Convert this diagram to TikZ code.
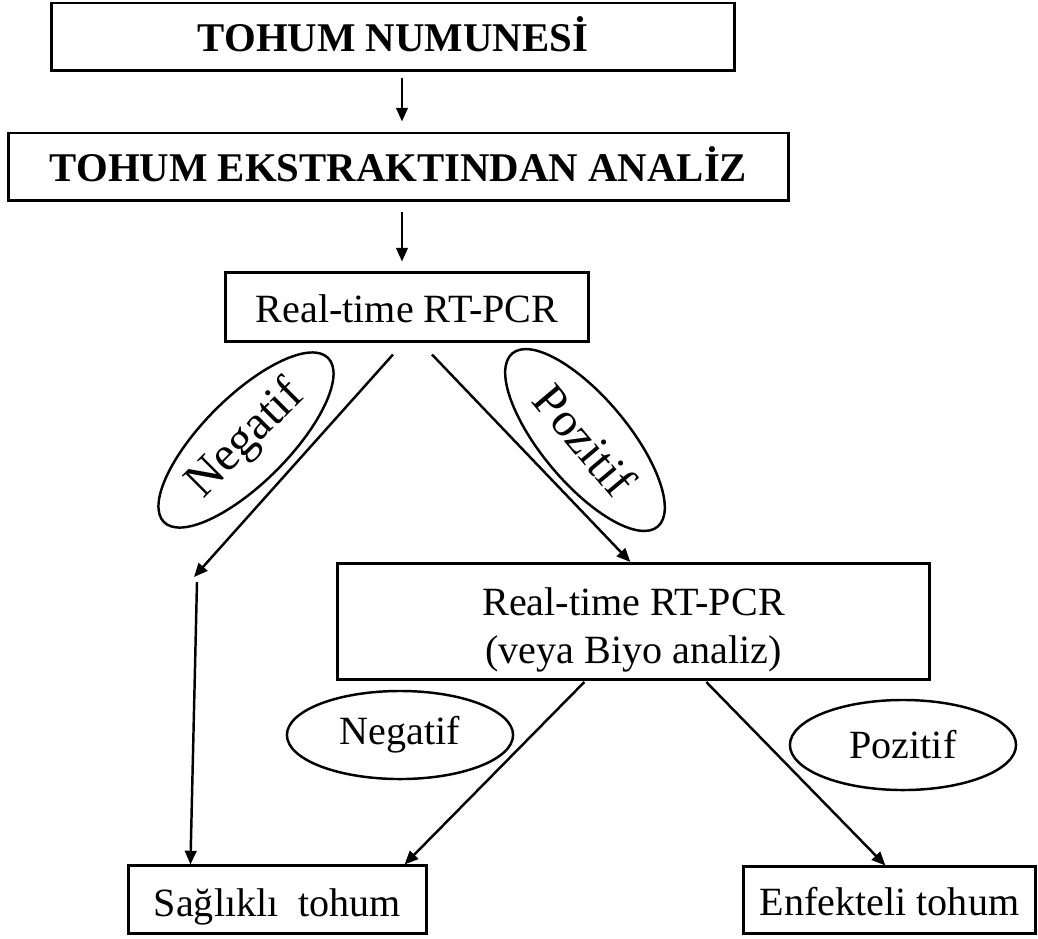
\documentclass[tikz,border=0pt]{standalone}
\usepackage{fontspec}
\setmainfont{Liberation Serif}
\usetikzlibrary{shapes.geometric,arrows.meta,calc}
\tikzset{
 box/.style={draw, line width=0.85pt, rectangle, inner sep=0pt, align=center, font=\fontsize{11.4pt}{13.66pt}\selectfont},
 onebox/.style={box, text height=0.3cm, text depth=0cm},
 bbox/.style={onebox, font=\fontsize{11.6pt}{14pt}\selectfont\bfseries},
 oval/.style={draw, ellipse, line width=0.7pt, inner sep=0pt, font=\fontsize{11.4pt}{13.66pt}\selectfont},
 bigoval/.style={oval, font=\fontsize{13.7pt}{16pt}\selectfont},
 arr/.style={line width=0.7pt, -{Triangle[length=3.9pt,width=3.3pt]}},
}
\begin{document}
\begin{tikzpicture}[x=0.01cm,y=-0.01cm]
\useasboundingbox (0,0) rectangle (1038,938);
% boxes
\node[bbox, minimum width=6.82cm, minimum height=0.67cm] (n1) at (393,36.5) {TOHUM NUMUNESİ};
\node[bbox, minimum width=7.79cm, minimum height=0.67cm] (n2) at (398.5,166.5) {TOHUM EKSTRAKTINDAN ANALİZ};
\node[onebox, minimum width=3.62cm, minimum height=0.68cm] (n3) at (407,307) {Real-time RT-PCR};
\node[box, minimum width=5.91cm, minimum height=1.16cm] (n4) at (633.5,621.5) {\rule{0pt}{0.44cm}Real-time RT-PCR\\(veya Biyo analiz)};
\node[onebox, minimum width=2.97cm, minimum height=0.67cm, text height=0.33cm] (n5) at (277.5,899.5) {Sağlıklı\ \ tohum};
\node[onebox, minimum width=2.91cm, minimum height=0.66cm] (n6) at (889.5,900) {Enfekteli tohum};
% ovals
\node[bigoval, rotate=45, minimum width=2.32cm, minimum height=0.86cm] (e1) at (246,440) {Negatif};
\node[bigoval, rotate=-50, minimum width=2.26cm, minimum height=0.86cm] (e2) at (585,440) {Pozitif};
\node[oval, minimum width=2.26cm, minimum height=0.88cm] (e3) at (400,735) {Negatif};
\node[oval, minimum width=2.26cm, minimum height=0.9cm] (e4) at (903,745) {Pozitif};
% connectors
\coordinate (xa) at (402,0);
\coordinate (sp) at (194,577);
\draw[arr, shorten <=0.06cm, shorten >=0.1cm] (n1.south -| xa) -- (n2.north -| xa);
\draw[arr, shorten <=0.1cm, shorten >=0.1cm] (n2.south -| xa) -- (n3.north -| xa);
\draw[arr] ($(n3.south)+(-14,12)$) -- (sp);
\draw[arr] ($(n3.south)+(25,12)$) -- ($(n4.north west)+(294,0)$);
\draw[arr] ($(sp)+(3,5)$) -- ($(n5.north west)+(63,0)$);
\draw[arr] ($(n4.south west)+(248,1)$) -- ($(n5.north east)+(-23,0)$);
\draw[arr] ($(n4.south west)+(370,1)$) -- ($(n6.north west)+(143,0)$);
\end{tikzpicture}
\end{document}
